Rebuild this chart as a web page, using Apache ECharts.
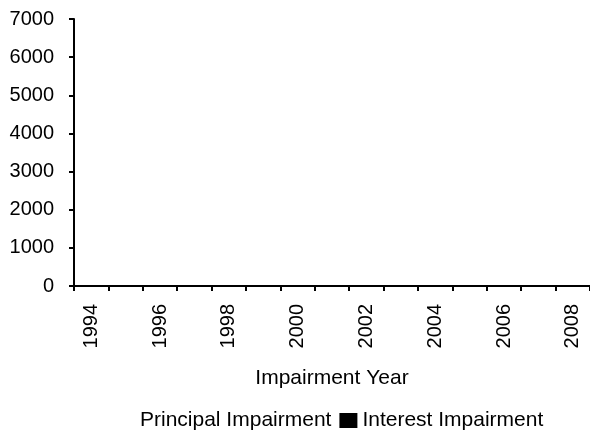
<!DOCTYPE html>
<html><head><meta charset="utf-8">
<script src="https://cdn.jsdelivr.net/npm/echarts@6/dist/echarts.min.js"></script>
<style>html,body{margin:0;padding:0;background:#fff}#c{width:590px;height:431px}</style>
</head><body><div id="c"></div>
<script>
var years = ['1994','1995','1996','1997','1998','1999','2000','2001','2002','2003','2004','2005','2006','2007','2008'];
var principalImpairment = [0,0,0,0,0,0,0,0,0,0,0,0,0,0,0];
var interestImpairment = [0,0,0,0,0,0,0,0,0,0,0,0,0,0,0];
var yTicks = [0,1000,2000,3000,4000,5000,6000,7000];

var font = '"Liberation Sans", Arial, sans-serif';
var chart = echarts.init(document.getElementById('c'));
chart.setOption({
  animation: false,
  backgroundColor: '#fff',
  grid: {left: 74, top: 19, right: 0, bottom: 145, containLabel: false},
  legend: {
    left: 112, top: 405, itemWidth: 18, itemHeight: 15, itemGap: 8,
    textStyle: {fontFamily: font, fontSize: 21, color: '#000'},
    data: [
      {name: 'Principal Impairment', icon: 'rect', itemStyle: {color: '#fff'}},
      {name: 'Interest Impairment', icon: 'rect', itemStyle: {color: '#000'}}
    ]
  },
  xAxis: {
    type: 'category', data: years, boundaryGap: true,
    name: 'Impairment Year', nameLocation: 'middle', nameGap: 82,
    nameTextStyle: {fontFamily: font, fontSize: 21, color: '#000'},
    axisLine: {lineStyle: {color: '#000', width: 2}},
    axisTick: {show: true, interval: 0, length: 5, alignWithLabel: false, lineStyle: {color: '#000', width: 2}},
    axisLabel: {interval: 1, rotate: 90, margin: 18, fontFamily: font, fontSize: 20, color: '#000'},
    splitLine: {show: false}
  },
  yAxis: {
    type: 'value', min: yTicks[0], max: yTicks[yTicks.length-1], interval: 1000,
    axisLine: {show: true, lineStyle: {color: '#000', width: 2}},
    axisTick: {show: true, length: 5, lineStyle: {color: '#000', width: 2}},
    axisLabel: {margin: 20, fontFamily: font, fontSize: 20, color: '#000', formatter: function (v) { return String(v); }},
    splitLine: {show: false}
  },
  series: [
    {name: 'Principal Impairment', type: 'bar', stack: 'a', data: principalImpairment, itemStyle: {color: '#fff'}, barCategoryGap: '50%'},
    {name: 'Interest Impairment', type: 'bar', stack: 'a', data: interestImpairment, itemStyle: {color: '#000'}}
  ]
});
</script></body></html>
